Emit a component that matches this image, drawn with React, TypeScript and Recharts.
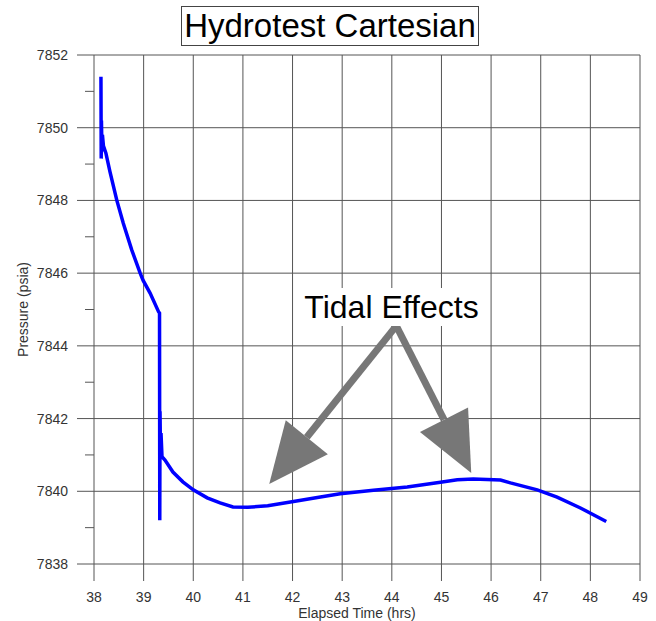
import {LineChart, Line, XAxis, YAxis, CartesianGrid, ReferenceLine} from "recharts";

// elapsed time (hrs) and pressure (psia)
const times = [
    38.14, 38.145, 38.15, 38.16, 38.17, 38.19, 38.24, 38.32, 38.46, 38.59, 38.76, 38.93, 38.99, 39.13, 39.3, 39.32,
    39.325, 39.33, 39.34, 39.35, 39.37, 39.43, 39.59, 39.79, 40.0, 40.28, 40.54, 40.8, 41.1, 41.5, 42.11, 42.5,
    42.96, 43.63, 44.31, 44.98, 45.32, 45.64, 46.19, 46.39, 46.93, 47.33, 47.8, 48.32
];
const pressures = [
    7851.4, 7849.15, 7850.2, 7849.35, 7849.8, 7849.5, 7849.3, 7848.8, 7848.0, 7847.37, 7846.64, 7846.0, 7845.8, 7845.45, 7844.94, 7844.9,
    7839.2, 7842.2, 7841.0, 7841.6, 7840.95, 7840.86, 7840.53, 7840.26, 7840.04, 7839.82, 7839.68, 7839.57, 7839.56, 7839.6, 7839.74, 7839.83,
    7839.93, 7840.03, 7840.12, 7840.25, 7840.32, 7840.34, 7840.31, 7840.23, 7840.04, 7839.84, 7839.54, 7839.17
];

const xTicks = [38, 39, 40, 41, 42, 43, 44, 45, 46, 47, 48, 49];
const yTicks = [7838, 7839, 7840, 7841, 7842, 7843, 7844, 7845, 7846, 7847, 7848, 7849, 7850, 7851, 7852];
const yMajorTicks = [7838, 7840, 7842, 7844, 7846, 7848, 7850, 7852];

const title = "Hydrotest Cartesian";
const annotation = "Tidal Effects";
const arrowStart = {t: 44.09, p: 7844.55};
const arrowTips = [{t: 41.53, p: 7840.2}, {t: 45.6, p: 7840.5}];

const FONT = "'Liberation Sans', Arial, sans-serif";
const GRID = "#555";
const TICK_SIZE = 17;
const TICK_MARGIN = 9;

const chartData = times.map((t, i) => ({t, p: pressures[i]}));

const YTick = (props: any) => {
    const {x, y, payload} = props;
    const right = x + TICK_MARGIN + TICK_SIZE;
    const major = payload.value % 2 === 0;
    return (
        <g>
            <line x1={right - (major ? TICK_SIZE : 9)} x2={right} y1={y} y2={y} stroke={GRID}/>
            {major && (
                <text x={x} y={y} dy="0.355em" textAnchor="end" fontSize={14} fill="#333" fontFamily={FONT}>
                    {payload.value}
                </text>
            )}
        </g>
    );
};

const Arrow = (props: any) => {
    const {x1, y1, x2, y2} = props;
    const len = Math.hypot(x2 - x1, y2 - y1);
    const ux = (x2 - x1) / len;
    const uy = (y2 - y1) / len;
    const bx = x2 - ux * 60;
    const by = y2 - uy * 60;
    const nx = -uy * 27;
    const ny = ux * 27;
    return (
        <g>
            <line x1={x1} y1={y1} x2={bx} y2={by} stroke="#777" strokeWidth={7}/>
            <polygon points={`${x2},${y2} ${bx + nx},${by + ny} ${bx - nx},${by - ny}`} fill="#777"/>
        </g>
    );
};

const YTitle = (props: any) => {
    const {viewBox} = props;
    const cx = viewBox.x + 23;
    const cy = viewBox.y + viewBox.height / 2;
    return (
        <text x={cx} y={cy} transform={`rotate(-90 ${cx} ${cy})`} textAnchor="middle" dy="0.355em"
              fontSize={14} fill="#333" fontFamily={FONT}>
            Pressure (psia)
        </text>
    );
};

const App = () => {
    return (
        <div style={{position: "absolute", left: 0, top: 0, width: 656, height: 621, background: "#fff"}}>
            <LineChart width={656} height={621} data={chartData}
                       margin={{top: 55, right: 16, left: 0, bottom: 0}}>
                <CartesianGrid stroke={GRID} horizontalValues={yMajorTicks} verticalValues={xTicks}/>
                <XAxis dataKey="t" type="number" domain={[38, 49]} ticks={xTicks} interval={0} height={57}
                       axisLine={false} tickLine={{stroke: GRID}} tickSize={TICK_SIZE} tickMargin={11}
                       tick={{fontSize: 14, fill: "#333", fontFamily: FONT}}
                       label={{value: "Elapsed Time (hrs)", position: "insideBottom", offset: 3, dx: -10,
                           fontSize: 14, fill: "#333", fontFamily: FONT}}/>
                <YAxis type="number" domain={[7838, 7852]} ticks={yTicks} interval={0} width={94}
                       axisLine={false} tickLine={false} tickSize={TICK_SIZE} tickMargin={TICK_MARGIN}
                       tick={<YTick/>} label={<YTitle/>}/>
                <Line dataKey="p" type="linear" stroke="#0000ff" strokeWidth={3.5} dot={false}
                      isAnimationActive={false}/>
                {arrowTips.map((tip, i) => (
                    <ReferenceLine key={i} segment={[{x: arrowStart.t, y: arrowStart.p}, {x: tip.t, y: tip.p}]}
                                   shape={Arrow}/>
                ))}
            </LineChart>
            <div style={{
                position: "absolute", left: 181, top: 6, width: 296, height: 38, border: "1px solid #444",
                fontFamily: FONT, fontSize: 33, lineHeight: "38px", textAlign: "center", color: "#000"
            }}>
                {title}
            </div>
            <div style={{
                position: "absolute", left: 303, top: 288, width: 177, height: 38, background: "#fff",
                fontFamily: FONT, fontSize: 32, lineHeight: "38px", textAlign: "center", color: "#000"
            }}>
                {annotation}
            </div>
        </div>
    );
};

export default App;
